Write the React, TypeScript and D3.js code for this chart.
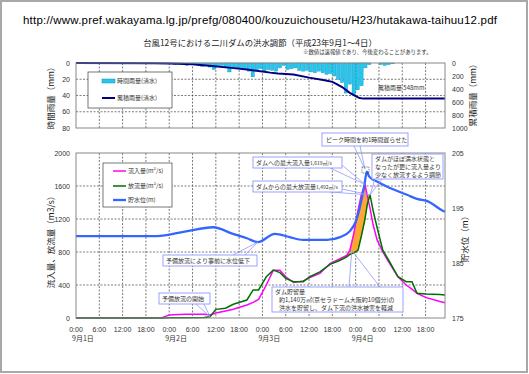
import * as d3 from "d3";

// 時間雨量 (mm) 0:00 9/1 から1時間ごと
const rainHourly = [
  0, 0, 0, 0, 0, 0, 0, 0, 0, 0, 0, 0,
  0, 0, 1, 0, 0, 1, 0, 1, 0, 1, 1, 1,
  1, 2, 1, 2, 3, 2, 2, 3, 4, 3,
  5, 8, 4, 3, 6, 11, 5, 6, 7, 8, 10,
  17, 9, 7, 10, 8, 9, 10, 6, 3,
  8, 7, 6, 9, 10, 9, 11, 12, 10, 12,
  14, 13, 16, 20, 24, 37, 26, 39, 33, 28,
  6, 2, 0, 0, 2, 3, 2, 1,
  0, 0, 0, 0, 0, 0, 0, 0, 0, 0, 0, 0, 0, 0,
];

// 累積雨量 (mm)
const cumHours = [0, 20, 24, 30, 32, 35, 40, 44, 48, 50, 52, 56, 60, 64, 66, 67, 68.5, 70.5, 72, 73, 74, 95];
const cumRain = [0, 2, 6, 20, 30, 45, 75, 100, 130, 148, 160, 178, 225, 265, 290, 320, 370, 460, 510, 540, 548, 548];

// 流入量・放流量 (m3/s)
const flowHours = [0, 22, 23, 24, 28, 33, 34.5, 36, 38.5, 40.5, 44, 45.6, 47, 49, 50.8, 52.5, 54, 56, 58.5, 60.2, 62.8, 65.4, 68, 69.7, 70.5, 71.5, 72.6, 73.5, 74.4, 75, 75.7, 76.5, 77.5, 79, 80.5, 82.9, 85, 86.5, 87.8, 90, 93.7, 95];
const inflow = [0, 0, 20, 35, 45, 45, 36, 60, 85, 105, 158, 190, 225, 400, 580, 580, 500, 430, 450, 490, 540, 660, 720, 760, 820, 1020, 1300, 1500, 1619, 1480, 1330, 1130, 950, 800, 680, 500, 400, 350, 300, 250, 200, 185];
const outflow = [0, 0, 0, 2, 3, 5, 15, 105, 118, 166, 218, 340, 340, 500, 580, 550, 480, 440, 440, 500, 560, 650, 700, 740, 770, 790, 820, 1000, 1200, 1380, 1492, 1300, 1100, 820, 700, 500, 440, 440, 300, 290, 285, 280];

// 貯水位 (m)
const levelHours = [0, 20.8, 28, 35.3, 40.4, 44, 46.8, 51.2, 55, 58.4, 64.6, 68, 70.5, 72, 73.2, 74.2, 74.9, 75.5, 77.5, 80, 85.2, 88, 90.3, 94.2, 95];
const waterLevel = [189.9, 189.9, 190.7, 191.5, 190.3, 189.5, 188.8, 190.3, 189.7, 189.2, 189.2, 189.7, 190.8, 192.5, 195.5, 199, 201.6, 200.7, 199.8, 198.9, 197.4, 196.6, 196.3, 194.6, 194.3];

const dayLabels = ["9月1日", "9月2日", "9月3日", "9月4日"];
const timeLabels = ["0:00", "6:00", "12:00", "18:00"];
const rainTicks = [0, 20, 40, 60, 80];
const cumTicks = [0, 200, 400, 600, 800, 1000];
const flowTicks = [0, 400, 800, 1200, 1600, 2000];
const levelTicks = [175, 185, 195, 205];

const FONT = "'Liberation Sans', 'Noto Sans CJK JP', sans-serif";
const JP = "'Noto Sans CJK JP', sans-serif";

const x = d3.scaleLinear().domain([0, 95]).range([76, 445]);
const yRain = d3.scaleLinear().domain([0, 80]).range([63, 128]);
const yCum = d3.scaleLinear().domain([0, 1000]).range([63, 128]);
const yFlow = d3.scaleLinear().domain([0, 2000]).range([318, 153]);
const yLevel = d3.scaleLinear().domain([175, 205]).range([318, 153]);

const gridHours = d3.range(6, 95, 6);
const tickHours = d3.range(0, 95, 6);

const CALLOUT = "#9098ff";

function Callout({ bx, by, bw, bh, base, tip, children }: any) {
  return (
    <g>
      {base.map((b: number[], i: number) => (
        <line key={i} x1={b[0]} y1={b[1]} x2={tip[0]} y2={tip[1]} stroke={CALLOUT} strokeWidth={0.8} />
      ))}
      <rect x={bx} y={by} width={bw} height={bh} fill="#fff" stroke={CALLOUT} strokeWidth={0.9} />
      {children}
    </g>
  );
}

export default function App() {
  const cumLine = d3
    .line<number>()
    .x((_, i) => x(cumHours[i]))
    .y((d) => yCum(d));
  const inLine = d3
    .line<number>()
    .x((_, i) => x(flowHours[i]))
    .y((d) => yFlow(d));
  const outLine = d3
    .line<number>()
    .x((_, i) => x(flowHours[i]))
    .y((d) => yFlow(d));
  const levelLine = d3
    .line<number>()
    .x((_, i) => x(levelHours[i]))
    .y((d) => yLevel(d))
    .curve(d3.curveMonotoneX);
  const storeArea = d3
    .area<number>()
    .defined((_, i) => flowHours[i] >= 65 && flowHours[i] <= 76)
    .x((_, i) => x(flowHours[i]))
    .y0((_, i) => yFlow(outflow[i]))
    .y1((d, i) => yFlow(Math.max(d, outflow[i])));

  const barW = x(1) - x(0);
  const inPeak = [x(74.4), yFlow(1619)];
  const outPeak = [x(75.7), yFlow(1492)];
  const lowPt = [x(46.8), yLevel(188.8)];
  const startPt = [x(34.5), yFlow(15)];

  return (
    <svg width={529} height={374} style={{ position: "absolute", left: 0, top: 0, background: "#fff" }} fontFamily={FONT}>
      <rect x={1} y={1} width={526} height={371} fill="#fff" stroke="#a8a8a8" strokeWidth={2} />

      <text x={23} y={24} fontSize={11.5} textLength={474} fill="#000">
        http://www.pref.wakayama.lg.jp/prefg/080400/kouzuichousetu/H23/hutakawa-taihuu12.pdf
      </text>
      <text x={260} y={46} fontSize={8.4} textAnchor="middle" fontFamily={JP} fill="#222">
        台風12号における二川ダムの洪水調節（平成23年9月1～4日）
      </text>
      <text x={303} y={54} fontSize={5.4} fontFamily={JP} fill="#333">
        ※数値は速報値であり、今後変わることがあります。
      </text>

      {/* 雨量グラフ */}
      <g>
        {gridHours.map((h) => (
          <line key={h} x1={x(h)} x2={x(h)} y1={63} y2={128} stroke="#444" strokeWidth={0.7} strokeDasharray="2,1.5" />
        ))}
        {rainTicks.slice(1, -1).map((t) => (
          <line key={t} x1={76} x2={445} y1={yRain(t)} y2={yRain(t)} stroke="#444" strokeWidth={0.7} strokeDasharray="2,1.5" />
        ))}
        {rainHourly.map((r, i) =>
          r > 0 ? (
            <rect key={i} x={x(i) + 0.3} y={yRain(0)} width={barW - 0.6} height={yRain(r) - yRain(0)} fill="#22c8f0" stroke="#1890b8" strokeWidth={0.4} />
          ) : null
        )}
        <path d={cumLine(cumRain) || ""} fill="none" stroke="#000080" strokeWidth={2} />
        <rect x={76} y={63} width={369} height={65} fill="none" stroke="#888" strokeWidth={1} />
        {rainTicks.map((t) => (
          <text key={t} x={70} y={yRain(t) + 2.5} fontSize={7} textAnchor="end" fill="#333">
            {t}
          </text>
        ))}
        {cumTicks.map((t) => (
          <text key={t} x={452} y={yCum(t) + 2.5} fontSize={7} fill="#333">
            {t}
          </text>
        ))}
        <text transform="translate(54,96) rotate(-90)" fontSize={8.5} textAnchor="middle" fontFamily={JP} fill="#222">
          時間雨量（mm）
        </text>
        <text transform="translate(476,93) rotate(-90)" fontSize={8.5} textAnchor="middle" fontFamily={JP} fill="#222">
          累積雨量（mm）
        </text>
        <text x={378} y={90} fontSize={6} fontFamily={JP} fill="#333">
          累積雨量 548mm
        </text>
        <rect x={88} y={72} width={84} height={36} fill="#fff" stroke="#555" strokeWidth={0.8} />
        <rect x={102} y={79} width={13} height={4} fill="#22c8f0" stroke="#1890b8" strokeWidth={0.5} />
        <text x={117} y={83} fontSize={6} fontFamily={JP} fill="#333">時間雨量(清水)</text>
        <line x1={102} x2={115} y1={98} y2={98} stroke="#000080" strokeWidth={2} />
        <text x={117} y={100} fontSize={6} fontFamily={JP} fill="#333">累積雨量(清水)</text>
      </g>

      {/* 流量・水位グラフ */}
      <g>
        {gridHours.map((h) => (
          <line key={h} x1={x(h)} x2={x(h)} y1={153} y2={318} stroke="#444" strokeWidth={0.7} strokeDasharray="2,1.5" />
        ))}
        {flowTicks.slice(1, -1).map((t) => (
          <line key={t} x1={76} x2={445} y1={yFlow(t)} y2={yFlow(t)} stroke="#444" strokeWidth={0.7} strokeDasharray="2,1.5" />
        ))}
        <path d={storeArea(inflow) || ""} fill="#ffa733" stroke="#d08010" strokeWidth={0.5} />
        <path d={inLine(inflow) || ""} fill="none" stroke="#ff00ff" strokeWidth={1.5} />
        <path d={outLine(outflow) || ""} fill="none" stroke="#007000" strokeWidth={1.5} />
        <path d={levelLine(waterLevel) || ""} fill="none" stroke="#3366ff" strokeWidth={2.3} />
        <rect x={76} y={153} width={369} height={165} fill="none" stroke="#888" strokeWidth={1} />
        {flowTicks.map((t) => (
          <text key={t} x={70} y={yFlow(t) + 2.5} fontSize={7} textAnchor="end" fill="#333">
            {t}
          </text>
        ))}
        {levelTicks.map((t) => (
          <text key={t} x={452} y={yLevel(t) + 2.5} fontSize={7} fill="#333">
            {t}
          </text>
        ))}
        {tickHours.map((h, i) => (
          <text key={h} x={x(h)} y={332} fontSize={7} textAnchor="middle" fill="#333">
            {timeLabels[i % 4]}
          </text>
        ))}
        {dayLabels.map((d, i) => (
          <text key={d} x={x(i * 24) - 4} y={341} fontSize={7} fontFamily={JP} fill="#333">
            {d}
          </text>
        ))}
        <text transform="translate(54,240) rotate(-90)" fontSize={8.5} textAnchor="middle" fontFamily={JP} fill="#222">
          流入量、放流量（m3/s）
        </text>
        <text transform="translate(468,237) rotate(-90)" fontSize={8.5} textAnchor="middle" fontFamily={JP} fill="#222">
          貯水位（m）
        </text>

        <rect x={103} y={163} width={69} height={44} fill="#fff" stroke="#555" strokeWidth={0.8} />
        <line x1={113} x2={126} y1={171} y2={171} stroke="#ff00ff" strokeWidth={1.5} />
        <text x={128} y={173} fontSize={6} fontFamily={JP} fill="#333">流入量(m³/s)</text>
        <line x1={113} x2={126} y1={186} y2={186} stroke="#007000" strokeWidth={1.5} />
        <text x={128} y={188} fontSize={6} fontFamily={JP} fill="#333">放流量(m³/s)</text>
        <line x1={113} x2={126} y1={200} y2={200} stroke="#3366ff" strokeWidth={2.3} />
        <text x={128} y={202} fontSize={6} fontFamily={JP} fill="#333">貯水位(m)</text>

        <g fontFamily={JP} fontSize={6} fill="#333">
          <Callout bx={322} by={133} bw={86} bh={13} base={[[354, 146], [360, 146]]} tip={[x(74.9) - 2, 169]}>
            <text x={326} y={142}>ピーク時間を約1時間遅らせた</text>
          </Callout>
          <rect x={x(74.4) - 3} y={167} width={7} height={6} fill="none" stroke="#222" strokeWidth={0.6} strokeDasharray="1,0.8" />
          <Callout bx={372} by={154} bw={71} bh={25} base={[[375, 179], [382, 179]]} tip={outPeak}>
            <text x={375} y={161}>ダムがほぼ満水状態と</text>
            <text x={375} y={169}>なったが更に流入量より</text>
            <text x={375} y={177}>少なく放流するよう調節</text>
          </Callout>
          <Callout bx={253} by={157} bw={89} bh={11} base={[[330, 168], [342, 165]]} tip={inPeak}>
            <text x={256} y={165}>
              ダムへの最大流入量<tspan fontSize={5}>1,619㎥/s</tspan>
            </text>
          </Callout>
          <Callout bx={253} by={181} bw={89} bh={11} base={[[330, 192], [342, 189]]} tip={outPeak}>
            <text x={256} y={189}>
              ダムからの最大放流量<tspan fontSize={5}>1,492㎥/s</tspan>
            </text>
          </Callout>
          <Callout bx={163} by={255} bw={94} bh={11} base={[[233, 255], [245, 255]]} tip={lowPt}>
            <text x={166} y={263}>予備放流により事前に水位低下</text>
          </Callout>
          <Callout bx={159} by={293} bw={51} bh={11} base={[[196, 304], [204, 304]]} tip={startPt}>
            <text x={162} y={301}>予備放流の開始</text>
          </Callout>
          <Callout bx={272} by={287} bw={131} bh={25} base={[[349, 287], [380, 287]]} tip={[x(71), yFlow(820)]}>
            <text x={275} y={294}>ダム貯留量</text>
            <text x={279} y={302}>約1,140万㎥(京セラドーム大阪約10個分)の</text>
            <text x={279} y={310}>洪水を貯留し、ダム下流の洪水被害を軽減</text>
          </Callout>
        </g>
      </g>
    </svg>
  );
}
